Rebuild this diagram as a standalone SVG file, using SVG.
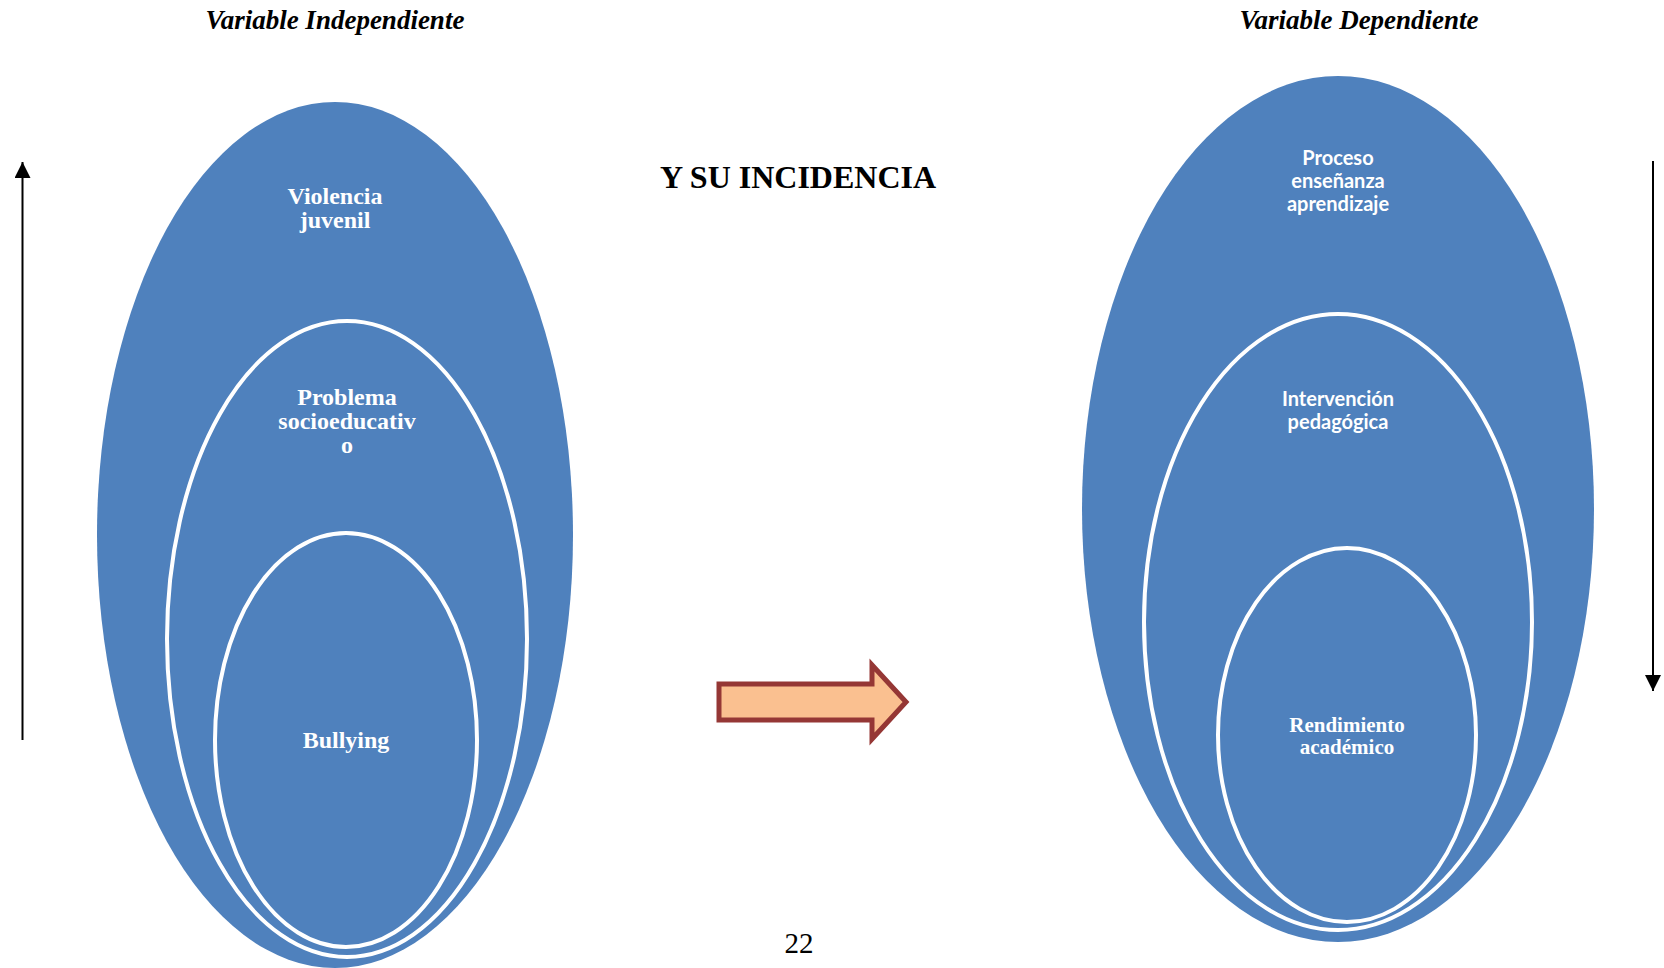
<svg xmlns="http://www.w3.org/2000/svg" width="1664" height="968" viewBox="0 0 1664 968">
<style>
.blue{fill:#4F81BD}
.ring{fill:#4F81BD;stroke:#FFFFFF;stroke-width:4}
.tn{font-family:"Liberation Serif","Times New Roman",serif;font-weight:bold;fill:#FFFFFF;font-size:24px;text-anchor:middle}
.cal{font-family:Lato,"Noto Sans",sans-serif;font-weight:bold;fill:#FFFFFF;font-size:20px;text-anchor:middle}
.title{font-family:"Liberation Serif","Times New Roman",serif;font-weight:bold;font-style:italic;fill:#000;font-size:27px;text-anchor:middle}
</style>
<defs>
<marker id="ah" viewBox="0 0 16 16" refX="16" refY="8" markerWidth="16" markerHeight="16" markerUnits="userSpaceOnUse" orient="auto">
<path d="M0,0 L16,8 L0,16 Z" fill="#000"/>
</marker>
</defs>
<rect width="1664" height="968" fill="#FFFFFF"/>
<text class="title" x="335" y="29">Variable Independiente</text>
<text class="title" x="1359" y="29">Variable Dependiente</text>
<text x="798" y="188" font-family="'Liberation Serif','Times New Roman',serif" font-weight="bold" font-size="32" text-anchor="middle" fill="#000">Y SU INCIDENCIA</text>
<text x="799" y="953" font-family="'Liberation Serif','Times New Roman',serif" font-size="29" text-anchor="middle" fill="#000">22</text>

<g id="left-outer">
<ellipse class="blue" cx="335" cy="535" rx="238" ry="433"/>
<text class="tn" x="335" y="204">Violencia</text>
<text class="tn" x="335" y="228">juvenil</text>
</g>
<g id="left-middle">
<ellipse class="ring" cx="347" cy="639" rx="180" ry="318"/>
<text class="tn" x="347" y="405">Problema</text>
<text class="tn" x="347" y="429">socioeducativ</text>
<text class="tn" x="347" y="453">o</text>
</g>
<g id="left-inner">
<ellipse class="ring" cx="346" cy="740" rx="131" ry="207"/>
<text class="tn" x="346" y="748">Bullying</text>
</g>

<g id="right-outer">
<ellipse class="blue" cx="1338" cy="509" rx="256" ry="433"/>
<text class="cal" x="1338" y="165">Proceso</text>
<text class="cal" x="1338" y="188">enseñanza</text>
<text class="cal" x="1338" y="211">aprendizaje</text>
</g>
<g id="right-middle">
<ellipse class="ring" cx="1338" cy="622" rx="194" ry="308"/>
<text class="cal" x="1338" y="406">Intervención</text>
<text class="cal" x="1338" y="429">pedagógica</text>
</g>
<g id="right-inner">
<ellipse class="ring" cx="1347" cy="735" rx="129" ry="187"/>
<text class="tn" x="1347" y="732" style="font-size:21px">Rendimiento</text>
<text class="tn" x="1347" y="754" style="font-size:21px">académico</text>
</g>

<g id="connectors">
<line x1="22.5" y1="740" x2="22.5" y2="162" stroke="#000" stroke-width="2" marker-end="url(#ah)"/>
<line x1="1653" y1="161" x2="1653" y2="691" stroke="#000" stroke-width="2" marker-end="url(#ah)"/>
<path d="M719,684 L872,684 L872,665 L906,702 L872,739 L872,720 L719,720 Z" fill="#FAC090" stroke="#953735" stroke-width="5" stroke-linejoin="miter"/>
</g>
</svg>
